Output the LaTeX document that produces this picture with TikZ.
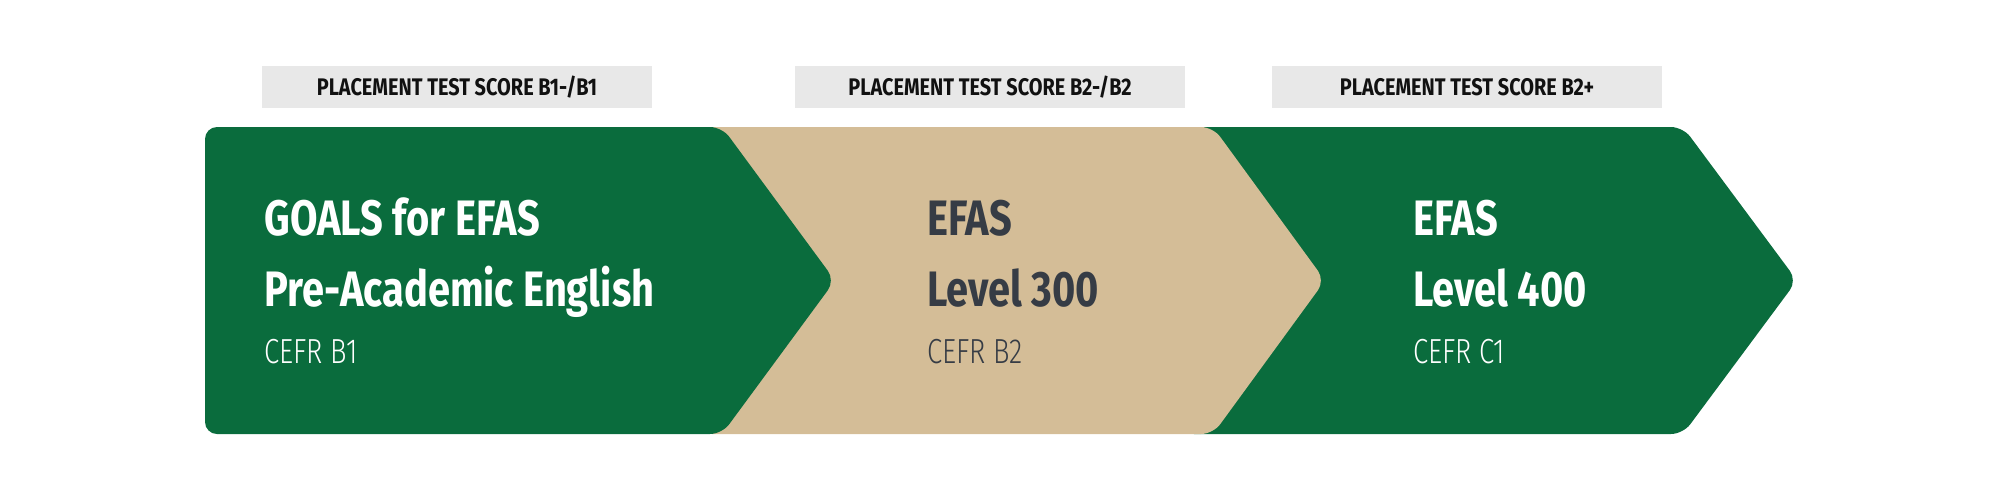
\documentclass[tikz,border=0pt]{standalone}
\usepackage{fontspec}
\setmainfont{Fira Sans}[FakeStretch=0.76]
\newfontfamily\headfont{Fira Sans}[FakeStretch=0.80]
\newfontfamily\boxfont{Fira Sans}[FakeStretch=0.83]
\newfontfamily\lightfont{Fira Sans Light}[FakeStretch=0.79]
\definecolor{efgreen}{HTML}{0A6C3D}
\definecolor{eftan}{HTML}{D4BD97}
\definecolor{efgray}{HTML}{E8E8E8}
\definecolor{efdark}{HTML}{363C45}
\definecolor{efblack}{HTML}{111111}
\tikzset{
  chevgreen/.style={fill=efgreen, draw=none, rounded corners=6pt},
  chevtan/.style={fill=eftan, draw=none, rounded corners=6pt},
  scorebox/.style={fill=efgray, draw=none, minimum width=195pt, minimum height=21pt,
    inner sep=0pt, text height=8.25pt, text depth=0pt, text=efblack,
    font=\boxfont\fontsize{12}{14}\selectfont\bfseries},
  headtxt/.style={anchor=base west, inner sep=0pt, font=\headfont\fontsize{24.9}{30}\selectfont\bfseries},
  subtxt/.style={anchor=base west, inner sep=0pt, font=\lightfont\fontsize{17.4}{21}\selectfont},
}
\begin{document}
\begin{tikzpicture}[x=0.5pt, y=-0.5pt]
\useasboundingbox (0,0) rectangle (2000,500);
% chevrons, drawn right to left so each overlaps the next
\path[chevgreen] (1182,127) -- (1683,127) -- (1797,280.5) -- (1683,434) -- (1182,434) -- cycle;
\path[chevtan]   (700,127) -- (1213,127) -- (1325,280.5) -- (1213,434) -- (700,434) -- cycle;
\path[chevgreen] (205,127) -- (722,127) -- (835,280.5) -- (722,434) -- (205,434) -- cycle;
% score boxes
\node[scorebox] (s1) at (457,87) {PLACEMENT TEST SCORE B1-/B1};
\node[scorebox] (s2) at (990,87) {PLACEMENT TEST SCORE B2-/B2};
\node[scorebox] (s3) at (1467,87) {PLACEMENT TEST SCORE B2+};
% texts
\node[headtxt, text=white] (a1) at (264,235) {GOALS for EFAS};
\node[headtxt, text=white] (a2) at (264,306.5) {Pre-Academic English};
\node[subtxt, text=white] (a3) at (264,363) {CEFR B1};
\node[headtxt, text=efdark] (b1) at (927,235) {EFAS};
\node[headtxt, text=efdark] (b2) at (927,306.5) {Level 300};
\node[subtxt, text=efdark] (b3) at (927,363) {CEFR B2};
\node[headtxt, text=white] (c1) at (1413,235) {EFAS};
\node[headtxt, text=white] (c2) at (1413,306.5) {Level 400};
\node[subtxt, text=white] (c3) at (1413,363) {CEFR C1};
\end{tikzpicture}
\end{document}
